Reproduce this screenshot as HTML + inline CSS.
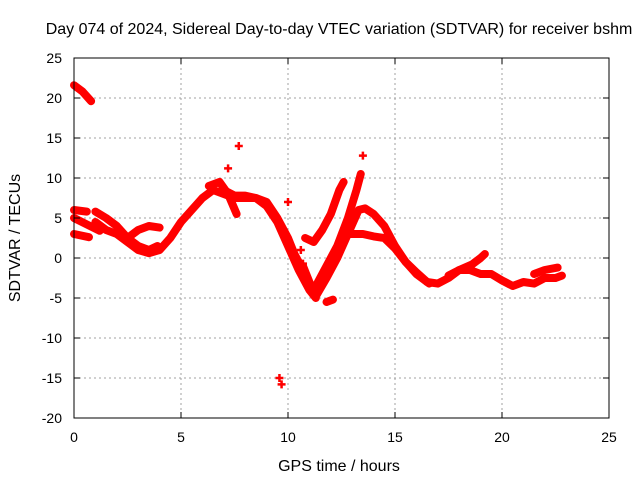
<!DOCTYPE html>
<html><head><meta charset="utf-8"><style>
body{margin:0;background:#fff}
svg{display:block;font-family:"Liberation Sans",sans-serif;font-size:14px}
.big{font-size:16px}
</style></head><body>
<svg id="chart" width="640" height="480">
<rect width="640" height="480" fill="#fff"/>
<text class="big" x="339" y="34" text-anchor="middle">Day 074 of 2024, Sidereal Day-to-day VTEC variation (SDTVAR) for receiver bshm</text>
<text class="big" x="339" y="471" text-anchor="middle">GPS time / hours</text>
<text class="big" transform="translate(20,238) rotate(-90)" text-anchor="middle">SDTVAR / TECUs</text>
<g id="grid"></g>
<g id="marks"></g>
<rect x="74" y="58" width="535" height="360" fill="none" stroke="#000"/>
<g id="ticks"></g>
</svg>
<script>
const xTicks=[0,5,10,15,20,25];
const yTicks=[25,20,15,10,5,0,-5,-10,-15,-20];
const trackA=[[0,21.6],[0.4,20.8],[0.8,19.6]];
const trackB=[[0,6],[0.6,5.8]];
const trackC=[[0,5],[0.6,4.2],[1.2,3.4]];
const trackD=[[0,3],[0.7,2.6]];
const trackE=[[1,5.8],[1.5,5],[2,4],[2.5,2.5],[3,1.5],[3.5,1],[3.9,1.5]];
const trackF=[[1,4.5],[1.5,3.5],[2,3],[2.5,2],[3,1],[3.5,0.6],[4,1],[4.5,2.5],[5,4.5],[5.5,6],[6,7.5],[6.5,8.5],[7,8],[7.5,7.5],[8,7.5],[8.5,7.5],[9,6.5],[9.5,4.5],[10,1.5],[10.5,-1.5],[11,-4],[11.3,-5]];
const trackG=[[2.5,2.5],[3,3.5],[3.5,4],[4,3.8]];
const trackH=[[6.3,9],[6.8,9.5],[7.2,8],[7.6,5.5]];
const trackI=[[7,8.5],[7.5,7.8],[8,7.8],[8.5,7.5],[9,7],[9.5,5],[10,2.5],[10.3,0.5],[10.7,-1.5]];
const trackJ=[[10.8,2.5],[11.2,2],[11.6,3.5],[12,5.5],[12.4,8.5],[12.6,9.5]];
const trackK=[[10.7,-1],[11,-3],[11.3,-4.8],[11.8,-2.5],[12.3,0],[12.8,3],[13.3,6],[13.6,6.2],[14,5.5],[14.5,4],[15,1.5],[15.5,-0.5],[16,-1.8],[16.5,-3],[17,-3.2],[17.5,-2.5],[18,-1.5],[18.5,-1.5],[19,-2],[19.5,-2],[20,-2.8],[20.5,-3.5],[21,-3],[21.5,-3.2],[22,-2.5],[22.5,-2.5],[22.8,-2.2]];
const trackL=[[11.3,-3.5],[11.8,-1],[12.3,1.5],[12.8,5],[13.2,8.5],[13.4,10.5]];
const trackM=[[12.9,3],[13.5,3],[14,2.7],[14.5,2.5],[15,1.2],[15.5,-0.5],[16,-2],[16.6,-3.2]];
const trackN=[[17.5,-2.2],[18,-1.5],[18.6,-0.8],[19,0],[19.2,0.5]];
const trackO=[[11.8,-5.5],[12.1,-5.2]];
const trackP=[[21.5,-2],[22,-1.5],[22.6,-1.2]];
const singles=[[7.7,14],[9.6,-15],[9.7,-15.8],[7.2,11.2],[13.5,12.8],[10,7],[10.6,1],[10.7,-0.7]];
const tracks=[trackA,trackB,trackC,trackD,trackE,trackF,trackG,trackH,trackI,trackJ,trackK,trackL,trackM,trackN,trackO,trackP];
const NS='http://www.w3.org/2000/svg';
const X=t=>74+t*535/25, Y=v=>258-v*8;
const grid=document.getElementById('grid'),ticks=document.getElementById('ticks'),marks=document.getElementById('marks');
function mk(tag,attrs,parent){const e=document.createElementNS(NS,tag);for(const k in attrs)e.setAttribute(k,attrs[k]);parent.appendChild(e);return e;}
xTicks.forEach(t=>{const x=X(t);
 if(t>0&&t<25){const l=mk('line',{x1:x,x2:x,y1:58,y2:418,stroke:'#a0a0a0','stroke-dasharray':'2,3'},grid);
 
 }
 const a=mk('line',{x1:x,x2:x,y1:418,y2:412,stroke:'#000'},ticks);
 const b=mk('line',{x1:x,x2:x,y1:58,y2:64,stroke:'#000'},ticks);
 const tx=mk('text',{x:x,y:442,'text-anchor':'middle'},ticks);tx.textContent=t;
 
 });
yTicks.forEach(v=>{const y=Y(v);
 if(v<25&&v>-20){const l=mk('line',{x1:74,x2:609,y1:y,y2:y,stroke:'#a0a0a0','stroke-dasharray':'2,3'},grid);
 
 }
 const a=mk('line',{x1:74,x2:80,y1:y,y2:y,stroke:'#000'},ticks);
 const b=mk('line',{x1:603,x2:609,y1:y,y2:y,stroke:'#000'},ticks);
 const tx=mk('text',{x:62,y:y+5,'text-anchor':'end'},ticks);tx.textContent=v;
 
 });
tracks.forEach(tr=>{
 const p=mk('polyline',{points:tr.map(d=>X(d[0])+','+Y(d[1])).join(' '),fill:'none',stroke:'#ff0000','stroke-width':8,'stroke-linejoin':'round','stroke-linecap':'round'},marks);
 
 
});
singles.forEach(d=>{const x=X(d[0]),y=Y(d[1]);
 const p=mk('path',{d:`M${x-4},${y}H${x+4}M${x},${y-4}V${y+4}`,stroke:'#ff0000','stroke-width':2.5},marks);
 
 });
</script>
</body></html>
